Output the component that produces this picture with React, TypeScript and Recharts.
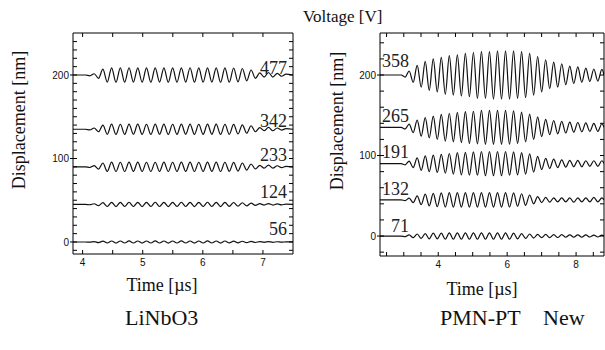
import { LineChart, Line, XAxis, YAxis, ReferenceDot } from 'recharts'

const SERIF = 'Liberation Serif, Times New Roman, serif'
const SANS = 'Liberation Sans, Arial, sans-serif'

// ---- LiNbO3 panel (left) ----
const lnVoltages = ['477', '342', '233', '124', '56']
const lnOffsets = [200, 135, 90, 45, 0]
const lnLabelY = [201, 138, 97, 53, 8]
const lnLabelT = 7.4
const lnStart = 4.12
const lnHalfPeriod = 0.0725
const lnXDomain = [3.84, 7.5]
const lnYDomain = [-14.4, 250.3]
const lnXTicks = [4, 5, 6, 7]
const lnXMinor = [4, 4.5, 5, 5.5, 6, 6.5, 7]
const lnYTicks = [0, 100, 200]
const lnYMinor = [-10, 0, 10, 20, 30, 40, 50, 60, 70, 80, 90, 100, 110, 120, 130, 140, 150, 160, 170, 180, 190, 200, 210, 220, 230, 240]

// peak / trough values (nm, relative to trace baseline), one per half cycle
const ln477 = [-1, 1.5, -4, 7,
  -8.5, 8.6, -8.7, 8.5, -8.6, 8.7, -8.5, 8.6, -8.6, 8.5, -8.7, 8.6, -8.5, 8.6, -8.7, 8.5, -8.6, 8.6, -8.5, 8.7,
  -8.6, 8.5, -8.6, 8.6, -8.5, 8.6, -8.7, 8.5, -8.6, 8.4, -8.2, 7.8, -7, 6,
  -4, 2.5, -2.5, 3, -2.5, 2, -1.5, 1]
const ln342 = [-0.8, 1.5, -3, 5,
  -6, 6.1, -6.2, 6, -6.1, 6.2, -6, 6.1, -6.1, 6, -6.2, 6.1, -6, 6.1, -6.2, 6, -6.1, 6.1, -6, 6.2,
  -6.1, 6, -6.1, 6.1, -6, 6.1, -6.2, 6, -6.1, 5.9, -5.7, 5.3, -4.8, 4.2,
  -3, 2, -1.8, 2.2, -1.8, 1.5, -1, 0.7]
const ln233 = [-0.8, 1.4, -2.8, 4.6,
  -5.5, 5.6, -5.6, 5.5, -5.6, 5.6, -5.5, 5.6, -5.5, 5.5, -5.6, 5.5, -5.5, 5.6, -5.6, 5.5, -5.5, 5.6, -5.5, 5.6,
  -5.6, 5.5, -5.5, 5.6, -5.5, 5.6, -5.6, 5.5, -5.4, 5.3, -5, 4.6, -4, 3.4,
  -2.6, 1.8, -1.6, 2, -1.6, 1.3, -0.9, 0.6]
const ln124 = [-0.4, 0.8, -1.5, 2.1,
  -2.5, 2.5, -2.6, 2.5, -2.5, 2.6, -2.5, 2.5, -2.6, 2.5, -2.5, 2.6, -2.5, 2.5, -2.6, 2.5, -2.5, 2.6, -2.5, 2.5,
  -2.6, 2.5, -2.5, 2.6, -2.5, 2.5, -2.6, 2.5, -2.4, 2.3, -2.2, 2, -1.8, 1.5,
  -1.2, 0.9, -0.8, 1, -0.8, 0.7, -0.5, 0.3]
const ln56 = [-0.2, 0.4, -0.8, 1,
  -1.2, 1.2, -1.3, 1.2, -1.2, 1.3, -1.2, 1.2, -1.3, 1.2, -1.2, 1.3, -1.2, 1.2, -1.3, 1.2, -1.2, 1.3, -1.2, 1.2,
  -1.3, 1.2, -1.2, 1.3, -1.2, 1.2, -1.3, 1.2, -1.1, 1.1, -1, 0.9, -0.8, 0.7,
  -0.6, 0.5, -0.4, 0.5, -0.4, 0.3, -0.2, 0.2]
const lnWaves = [ln477, ln342, ln233, ln124, ln56]

// ---- PMN-PT panel (right) ----
const pmVoltages = ['358', '265', '191', '132', '71']
const pmOffsets = [200, 135, 90, 45, 0]
const pmLabelY = [210, 142, 96.5, 51, 5.3]
const pmLabelT = [2.37, 2.37, 2.37, 2.37, 2.63]
const pmStart = 3.04
const pmHalfPeriod = 0.1165
const pmXDomain = [2.31, 8.81]
const pmYDomain = [-24.8, 252.2]
const pmXTicks = [4, 6, 8]
const pmXMinor = [2.5, 3, 3.5, 4, 4.5, 5, 5.5, 6, 6.5, 7, 7.5, 8, 8.5]
const pmYTicks = [0, 100, 200]
const pmYMinor = [-20, 0, 20, 40, 60, 80, 100, 120, 140, 160, 180, 200, 220, 240]

const pm358 = [-2.5, 5, -9, 12, -15, 17, -19, 20, -21, 22, -24, 24, -25, 25, -26, 27, -27, 28, -29, 29,
  -29, 29, -30, 30, -30, 30, -30, 30, -29, 29, -28, 27, -25, 23, -21, 19, -17, 16, -15, 14,
  -12, 11, -10.5, 10, -9, 8.5, -8, 7.5, -7.5, 7]
const pm265 = [-2, 4, -6.5, 9, -11, 12, -13, 14, -15, 16, -17, 17.5, -18, 18.5, -19, 19.5, -20, 20, -20.5, 21,
  -21, 21, -21, 21, -21, 21, -21, 20.5, -20, 19, -18, 16.5, -15, 13, -11.5, 10, -9, 8.5, -8, 7.5,
  -7, 6.5, -6, 6, -5.5, 5.5, -5, 5, -5, 4.5]
const pm191 = [-1.5, 3, -5, 7, -8.5, 9.5, -10, 10.5, -11, 11.5, -12, 12.5, -13, 13.5, -14, 14, -14.5, 14.5, -14.5, 15,
  -15, 15, -15, 15, -15, 15, -14.5, 14.5, -14, 13.5, -13, 12, -10.5, 9, -7.5, 6.5, -6, 5.5, -5, 4.5,
  -4.5, 4, -4, 4, -4, 3.5, -3.5, 3.5, -3.5, 3.5]
const pm132 = [-1, 2, -3.5, 5, -6, 7, -7.5, 8, -8.5, 8.5, -9, 9, -9, 9, -9, 9, -9, 9, -9, 9,
  -9, 9, -9, 9, -9, 9, -9, 8.5, -8, 7.5, -7, 6, -5, 4, -3.5, 3, -3, 2.5, -2.5, 2.5,
  -2.5, 2.5, -3, 2.5, -2.5, 2.5, -2.5, 3, -2.5, 2.5]
const pm71 = [-0.8, 1.5, -2, 2.5, -3, 3, -3.5, 3.5, -3.5, 3.5, -4, 4, -4, 4, -4, 4, -4, 4, -4, 4,
  -4, 4, -4, 4, -4, 4, -4, 3.5, -3.5, 3, -3, 2.5, -2.5, 2, -2, 2, -2, 1.8, -1.8, 1.8,
  -1.5, 1.5, -1.5, 1.5, -1.5, 1.5, -1.2, 1.2, -1.2, 1.2]
const pmWaves = [pm358, pm265, pm191, pm132, pm71]

// flat baseline, then one point per half cycle, then flat to the right edge
const buildTrace = (wave: number[], offset: number, start: number, half: number, xDomain: number[]) => [
  { t: xDomain[0], y: offset },
  { t: start - half, y: offset },
  ...wave.map((v, i) => ({ t: start + i * half, y: offset + v })),
  { t: xDomain[1], y: offset },
]

const voltLabel = (text: string, anchor: 'start' | 'end') => (props: any) => {
  const vb = props.viewBox || {}
  return (
    <text x={vb.x} y={vb.y} textAnchor={anchor} style={{ fontFamily: SERIF, fontSize: 18 }} fill="#222">
      {text}
    </text>
  )
}

// tick marks only, no label
const NoLabel = () => <g />

const tickStyle = { fontSize: 10, fontFamily: SANS, fill: '#111' }
const black = { stroke: '#000' }

interface PanelProps {
  width: number
  height: number
  margin: { top: number; right: number; bottom: number; left: number }
  yAxisWidth: number
  xDomain: number[]
  yDomain: number[]
  xTicks: number[]
  xMinor: number[]
  yTicks: number[]
  yMinor: number[]
  waves: number[][]
  offsets: number[]
  start: number
  half: number
  voltages: string[]
  labelT: number[]
  labelY: number[]
  anchor: 'start' | 'end'
}

const Panel = (p: PanelProps) => (
  <LineChart width={p.width} height={p.height} margin={p.margin}>
    <XAxis xAxisId="x" dataKey="t" type="number" domain={p.xDomain} allowDataOverflow ticks={p.xTicks} interval={0}
      tickLine={false} tickSize={0} tickMargin={5} height={20} axisLine={black} tick={tickStyle} />
    <XAxis xAxisId="xb" dataKey="t" type="number" domain={p.xDomain} allowDataOverflow ticks={p.xMinor} interval={0}
      mirror tick={NoLabel} tickSize={4} axisLine={false} tickLine={black} />
    <XAxis xAxisId="xt" dataKey="t" type="number" orientation="top" domain={p.xDomain} allowDataOverflow ticks={p.xMinor}
      interval={0} mirror tick={NoLabel} tickSize={4} axisLine={black} tickLine={black} />
    <YAxis yAxisId="y" type="number" domain={p.yDomain} allowDataOverflow ticks={p.yTicks} interval={0}
      width={p.yAxisWidth} tickSize={3} tickMargin={1} axisLine={black} tickLine={black} tick={tickStyle} />
    <YAxis yAxisId="yl" type="number" domain={p.yDomain} allowDataOverflow ticks={p.yMinor} interval={0}
      mirror tick={NoLabel} tickSize={4} axisLine={false} tickLine={black} />
    <YAxis yAxisId="yr" type="number" orientation="right" domain={p.yDomain} allowDataOverflow ticks={p.yMinor}
      interval={0} mirror tick={NoLabel} tickSize={4} axisLine={black} tickLine={black} />
    {p.waves.map((w, i) => (
      <Line
        key={p.voltages[i]}
        xAxisId="x"
        yAxisId="y"
        data={buildTrace(w, p.offsets[i], p.start, p.half, p.xDomain)}
        dataKey="y"
        type="monotone"
        stroke="#111"
        strokeWidth={1.2}
        dot={false}
        activeDot={false}
        isAnimationActive={false}
      />
    ))}
    {p.voltages.map((v, i) => (
      <ReferenceDot key={'l' + v} xAxisId="x" yAxisId="y" x={p.labelT[i]} y={p.labelY[i]} r={0}
        stroke="none" fill="none" label={voltLabel(v, p.anchor)} />
    ))}
  </LineChart>
)

const titleStyle = (size: number) => ({ fontFamily: SERIF, fontSize: size })

export default function App() {
  return (
    <div style={{ position: 'absolute', left: 0, top: 0, width: 605, height: 350, background: '#fff' }}>
      <div style={{ position: 'absolute', left: 0, top: 0 }}>
        <Panel
          width={300} height={300} margin={{ top: 33, right: 7, bottom: 26, left: 48 }} yAxisWidth={25}
          xDomain={lnXDomain} yDomain={lnYDomain} xTicks={lnXTicks} xMinor={lnXMinor}
          yTicks={lnYTicks} yMinor={lnYMinor} waves={lnWaves} offsets={lnOffsets}
          start={lnStart} half={lnHalfPeriod} voltages={lnVoltages}
          labelT={lnVoltages.map(() => lnLabelT)} labelY={lnLabelY} anchor="end"
        />
      </div>
      <div style={{ position: 'absolute', left: 300, top: 0 }}>
        <Panel
          width={305} height={300} margin={{ top: 33, right: 1, bottom: 24, left: 60 }} yAxisWidth={20}
          xDomain={pmXDomain} yDomain={pmYDomain} xTicks={pmXTicks} xMinor={pmXMinor}
          yTicks={pmYTicks} yMinor={pmYMinor} waves={pmWaves} offsets={pmOffsets}
          start={pmStart} half={pmHalfPeriod} voltages={pmVoltages}
          labelT={pmLabelT} labelY={pmLabelY} anchor="start"
        />
      </div>
      <svg width={605} height={350} style={{ position: 'absolute', left: 0, top: 0, pointerEvents: 'none' }}>
        <g fill="#111">
          <text x={303} y={22} style={titleStyle(17)}>Voltage [V]</text>
          <text x={25} y={120} style={titleStyle(18)} textAnchor="middle" transform="rotate(-90 25 120)">Displacement [nm]</text>
          <text x={343} y={121} style={titleStyle(18)} textAnchor="middle" transform="rotate(-90 343 121)">Displacement [nm]</text>
          <text x={162} y={291} style={titleStyle(18)} textAnchor="middle">Time [µs]</text>
          <text x={482} y={295} style={titleStyle(18)} textAnchor="middle">Time [µs]</text>
          <text x={125} y={325} style={titleStyle(22)}>LiNbO3</text>
          <text x={440} y={325} style={titleStyle(22)}>PMN-PT</text>
          <text x={543} y={325} style={titleStyle(22)}>New</text>
        </g>
      </svg>
    </div>
  )
}
